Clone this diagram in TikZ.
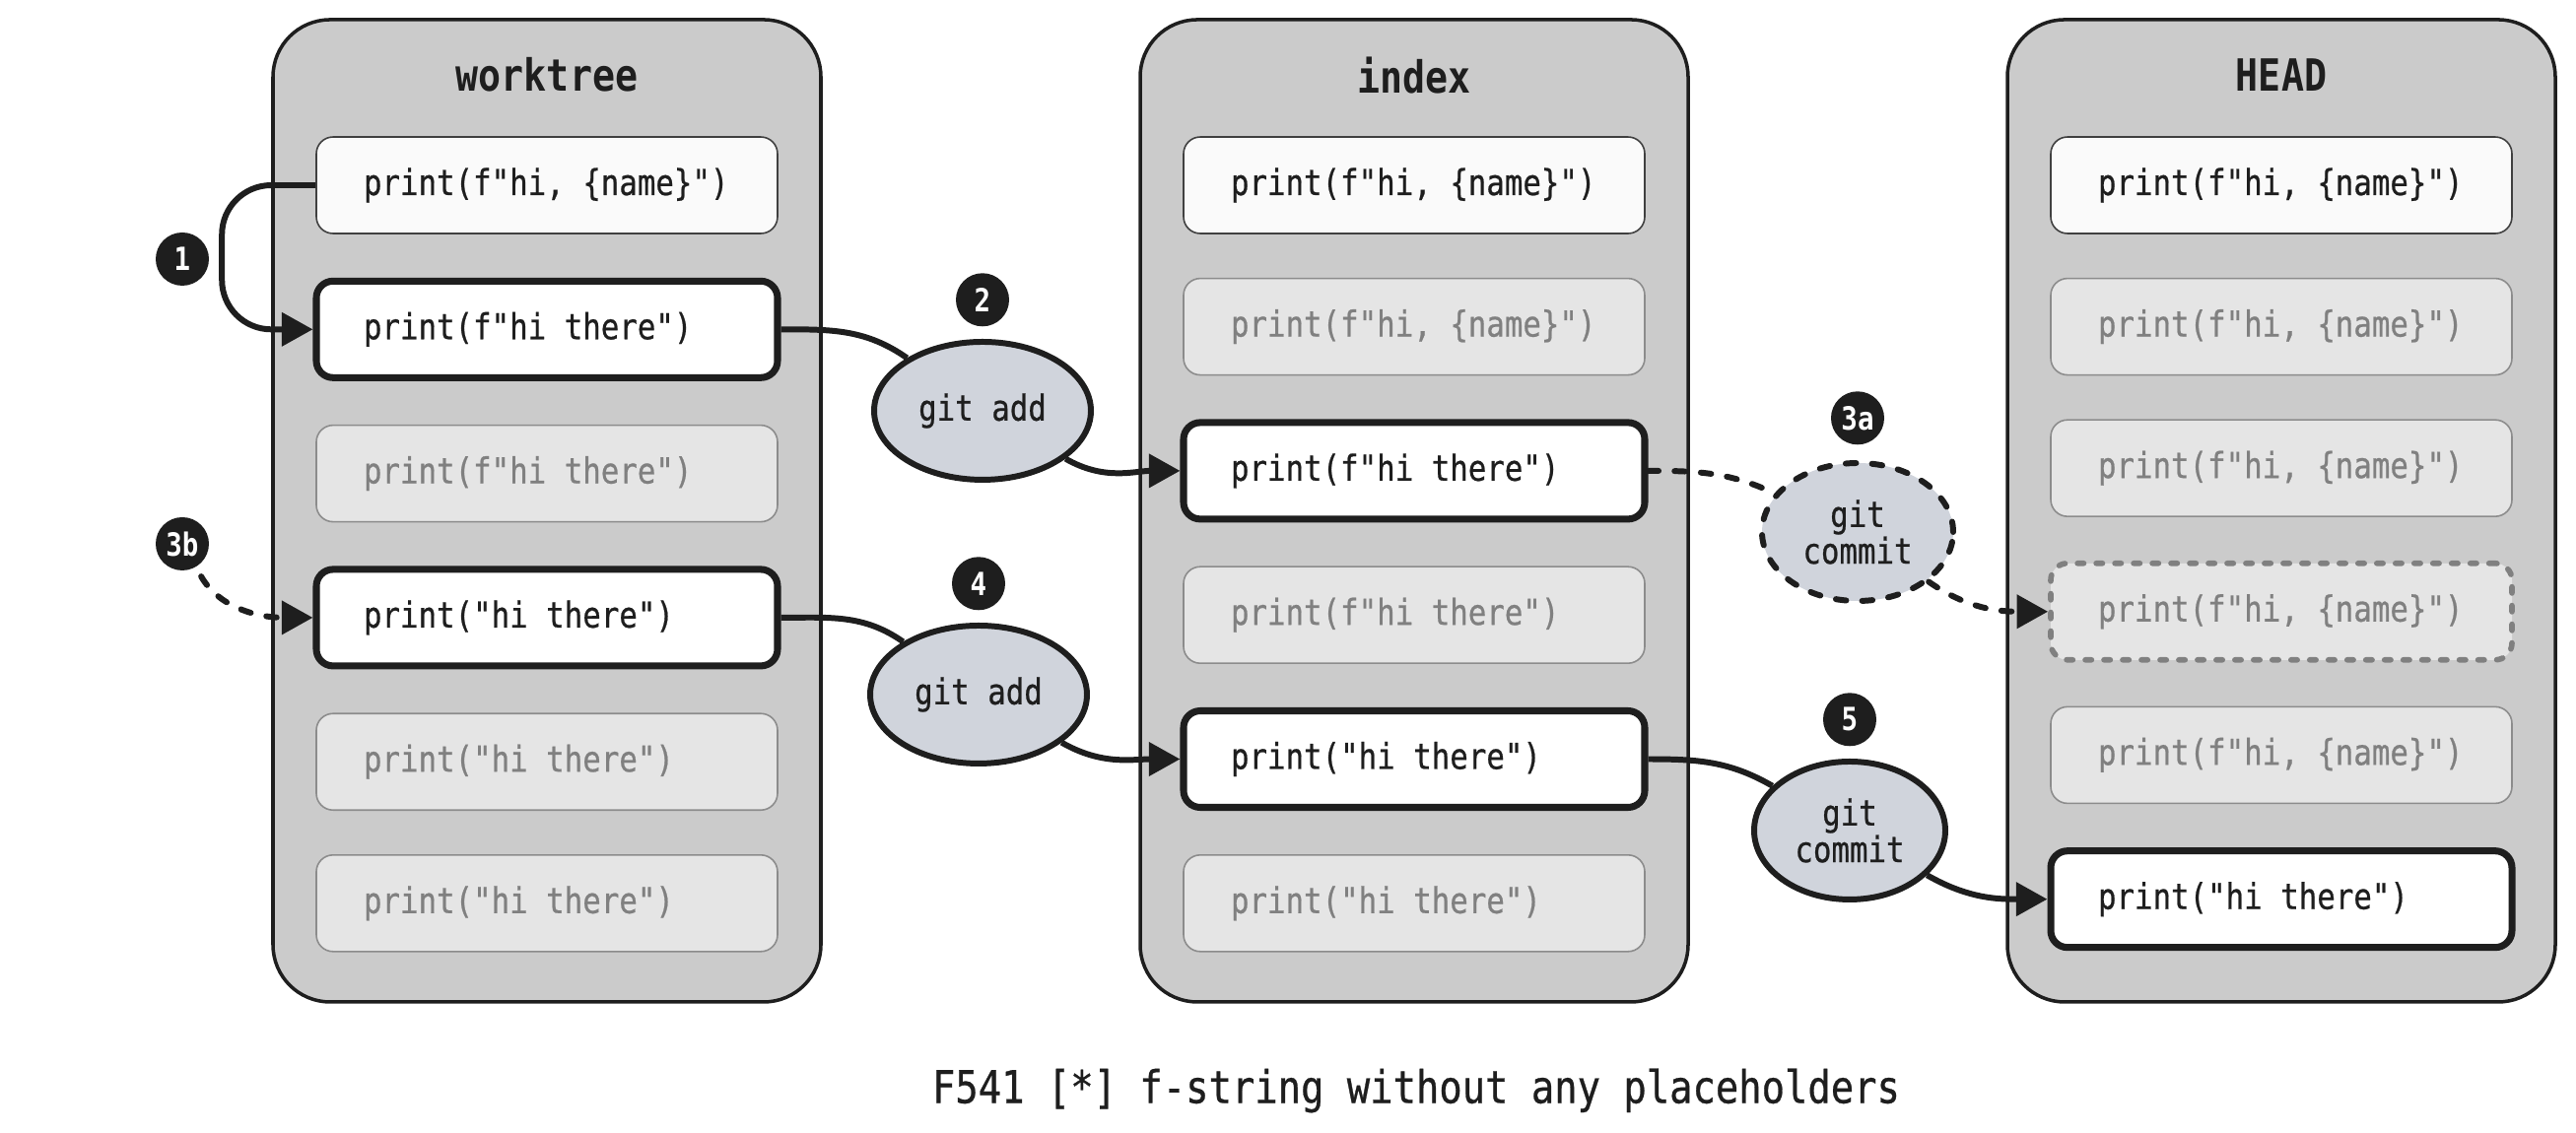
\documentclass[tikz,border=0pt]{standalone}
\usepackage{fontspec}
\setmonofont{DejaVu Sans Mono}[FakeStretch=0.85, UprightFeatures={FakeBold=0.6}]
\usepackage{xcolor}
\usetikzlibrary{arrows.meta,positioning,shapes.geometric}
\definecolor{PanelGray}{HTML}{CBCBCB}
\definecolor{InkDark}{HTML}{1E1E1E}
\definecolor{FadedFill}{HTML}{E5E5E5}
\definecolor{FadedLine}{HTML}{8C8C8C}
\definecolor{FadedText}{HTML}{808080}
\definecolor{CmdFill}{HTML}{D0D4DC}
\newlength{\monocharwd}
% monospaced word space: one character cell
\newcommand{\monospace}{\settowidth{\monocharwd}{a}%
  \fontdimen2\font=\monocharwd \fontdimen3\font=0pt \fontdimen4\font=0pt\relax}
\newcommand{\codesize}{\fontsize{10.3}{10.6}\selectfont\monospace}
\newcommand{\codebox}[4]{%
  \node[codebase,#1,#4] (#2) {\spaceskip=\monocharwd\xspaceskip=\monocharwd #3};}
\tikzset{
  codebase/.style={rounded corners=1.7mm, minimum height=0.98cm, text width=3.72cm,
                   inner xsep=0.48cm, align=left, font=\ttfamily\codesize},
  current/.style={draw=InkDark, line width=2pt, fill=white, text=InkDark},
  origin/.style={draw=InkDark!85, line width=0.45pt, fill=black!2, text=InkDark},
  faded/.style={draw=FadedLine, line width=0.45pt, fill=FadedFill, text=FadedText},
  ghost/.style={draw=FadedText, line width=1.6pt, dash pattern=on 1.8pt off 3.6pt,
                line cap=round, fill=FadedFill, text=FadedText},
  panel/.style={draw=InkDark, line width=1pt, fill=PanelGray, rounded corners=5.8mm,
                minimum width=5.56cm, minimum height=9.97cm},
  paneltitle/.style={font=\ttfamily\bfseries\fontsize{12.8}{14}\selectfont, text=InkDark},
  gitcmd/.style={ellipse, draw=InkDark, line width=1.7pt, fill=CmdFill, text=InkDark,
                 font=\ttfamily\codesize, align=center, inner sep=0pt},
  badge/.style={circle, fill=InkDark, text=white, minimum size=0.54cm, inner sep=0pt,
                font=\ttfamily\bfseries\fontsize{9.2}{10}\selectfont},
  dashedline/.style={dash pattern=on 3pt off 4.6pt, line cap=round},
  link/.style={line width=1.7pt, draw=InkDark},
  flow/.style={link, -{Triangle[length=9pt,width=9.5pt]}},
}

\begin{document}
\begin{tikzpicture}[node distance=0.44cm]
  \useasboundingbox (0,0) rectangle (26.14,11.5);

  % the three areas
  \node[panel] (wt) at (5.55,6.315) {};
  \node[panel] (ix) at (14.35,6.315) {};
  \node[panel] (hd) at (23.15,6.315) {};
  \node[paneltitle] (wttitle) at ([yshift=-5.8mm]wt.north) {worktree};
  \node[paneltitle] (ixtitle) at ([yshift=-5.8mm]ix.north) {index};
  \node[paneltitle] (hdtitle) at ([yshift=-5.8mm]hd.north) {HEAD};

  % worktree
  \codebox{origin}{w1}{print(f"hi, \{name\}")}{below=1.2cm of wt.north}
  \codebox{current}{w2}{print(f"hi there")}{below=of w1}
  \codebox{faded}{w3}{print(f"hi there")}{below=of w2}
  \codebox{current}{w4}{print("hi there")}{below=of w3}
  \codebox{faded}{w5}{print("hi there")}{below=of w4}
  \codebox{faded}{w6}{print("hi there")}{below=of w5}

  % index
  \codebox{origin}{i1}{print(f"hi, \{name\}")}{below=1.2cm of ix.north}
  \codebox{faded}{i2}{print(f"hi, \{name\}")}{below=of i1}
  \codebox{current}{i3}{print(f"hi there")}{below=of i2}
  \codebox{faded}{i4}{print(f"hi there")}{below=of i3}
  \codebox{current}{i5}{print("hi there")}{below=of i4}
  \codebox{faded}{i6}{print("hi there")}{below=of i5}

  % HEAD
  \codebox{origin}{h1}{print(f"hi, \{name\}")}{below=1.2cm of hd.north}
  \codebox{faded}{h2}{print(f"hi, \{name\}")}{below=of h1}
  \codebox{faded}{h3}{print(f"hi, \{name\}")}{below=of h2}
  \codebox{ghost}{h4}{print(f"hi, \{name\}")}{below=of h3}
  \codebox{faded}{h5}{print(f"hi, \{name\}")}{below=of h4}
  \codebox{current}{h6}{print("hi there")}{below=of h5}

  % git commands
  \node[gitcmd, minimum width=2.2cm, minimum height=1.4cm] (add1) at (9.97,7.33) {git add};
  \node[gitcmd, minimum width=2.2cm, minimum height=1.4cm] (add2) at (9.93,4.45) {git add};
  \node[gitcmd, dashedline, minimum width=1.94cm, minimum height=1.4cm] (commit1) at (18.85,6.10) {git\\commit};
  \node[gitcmd, minimum width=1.94cm, minimum height=1.4cm] (commit2) at (18.77,3.07) {git\\commit};

  % step numbers
  \node[badge] (b1) at (1.85,8.87) {1};
  \node[badge, above=0.12cm of add1] (b2) {2};
  \node[badge] (b3b) at (1.85,5.98) {3b};
  \node[badge, above=0.15cm of commit1] (b3a) {3a};
  \node[badge, above=0.12cm of add2] (b4) {4};
  \node[badge, above=0.12cm of commit2] (b5) {5};

  % connectors
  \draw[flow, rounded corners=5mm] (w1.west) -- ++(-0.95,0) |- (w2.west);
  \draw[link] (w2.east) to[out=0,in=145] (add1);
  \draw[flow] (add1) to[out=-30,in=180] (i3.west);
  \draw[flow, dashedline, shorten <=3pt] (b3b) to[out=-60,in=180] (w4.west);
  \draw[link] (w4.east) to[out=0,in=145] (add2);
  \draw[flow] (add2) to[out=-30,in=180] (i5.west);
  \draw[link, dashedline] (i3.east) to[out=0,in=155] (commit1);
  \draw[flow, dashedline] (commit1) to[out=-35,in=180] (h4.west);
  \draw[link] (i5.east) to[out=0,in=150] (commit2);
  \draw[flow] (commit2) to[out=-30,in=180] (h6.west);

  \node[font=\ttfamily\fontsize{13}{15}\selectfont\monospace, text=InkDark] (caption) at (14.37,0.43)
    {F541 [*] f-string without any placeholders};
\end{tikzpicture}
\end{document}
